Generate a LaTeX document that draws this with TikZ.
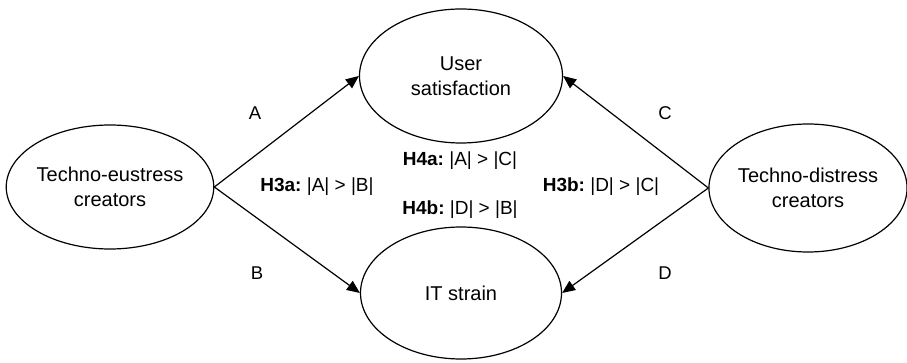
\documentclass[tikz,border=0pt]{standalone}
\usepackage{fontspec}
\setmainfont{Liberation Sans}
\usetikzlibrary{shapes.geometric,arrows.meta}
\begin{document}
\begin{tikzpicture}[x=1pt,y=-1pt,
  ell/.style={draw,line width=1.2pt,ellipse,inner sep=0pt,align=center,font=\fontsize{20}{25}\selectfont},
  arr/.style={line width=1.2pt,-{Triangle[length=13pt,width=11pt]}},
  lbl/.style={font=\fontsize{18.5}{22}\selectfont},
  hyp/.style={font=\fontsize{19}{22}\selectfont}]
\useasboundingbox (0,0) rectangle (907,363);
\node[ell,minimum width=203pt,minimum height=124pt] (L) at (110,187) {Techno-eustress\\creators};
\node[ell,minimum width=193pt,minimum height=128pt] (R) at (808,188) {Techno-distress\\creators};
\node[ell,minimum width=203pt,minimum height=134pt] (T) at (461,76) {User\\satisfaction};
\node[ell,minimum width=201pt,minimum height=132pt] (B) at (461,293) {IT strain};
\draw[arr] (L.east) -- (T.west);
\draw[arr] (L.east) -- (B.west);
\draw[arr] (R.west) -- (T.east);
\draw[arr] (R.west) -- (B.east);
\node[lbl] (la) at (255,113) {A};
\node[lbl] (lb) at (257,273) {B};
\node[lbl] (lc) at (665,113) {C};
\node[lbl] (ld) at (665,273) {D};
\node[hyp] (h4a) at (460,161) {\textbf{H4a:}~|A| > |C|};
\node[hyp] (h3a) at (317,187) {\textbf{H3a:}~|A| > |B|};
\node[hyp] (h3b) at (601,187) {\textbf{H3b:}~|D| > |C|};
\node[hyp] (h4b) at (460,210) {\textbf{H4b:}~|D| > |B|};
\end{tikzpicture}
\end{document}
